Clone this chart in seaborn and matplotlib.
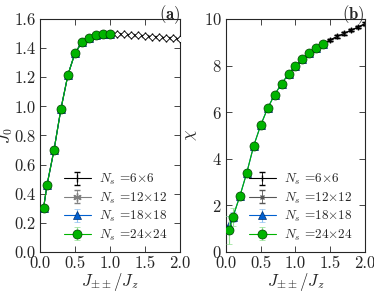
import seaborn as sns
import matplotlib.pyplot as plt
import numpy as np

# panel (a): J0
x24 = [0.05, 0.1, 0.2, 0.3, 0.4, 0.5, 0.6, 0.7, 0.8, 0.9, 1.0]
j0_24 = [0.30, 0.46, 0.70, 0.985, 1.218, 1.366, 1.44, 1.47, 1.49, 1.499, 1.50]
j0_24_err = [0.02, 0.02, 0.01, 0.01, 0.01, 0.01, 0.01, 0.01, 0.01, 0.01, 0.01]
j0_18 = [0.30, 0.46, 0.70, 0.985, 1.218, 1.366, 1.44, 1.47, 1.49, 1.499, 1.50]
x6 = [0.05, 0.1, 0.2, 0.3, 0.4, 0.5, 0.6, 0.7, 0.8, 0.9, 1.0,
      1.1, 1.2, 1.3, 1.4, 1.5, 1.6, 1.7, 1.8, 1.9, 2.0]
j0_6 = [0.30, 0.46, 0.70, 0.985, 1.218, 1.366, 1.44, 1.47, 1.49, 1.499, 1.50,
        1.498, 1.495, 1.491, 1.487, 1.483, 1.479, 1.475, 1.471, 1.468, 1.464]

# panel (b): chi
xb24 = [0.05, 0.1, 0.2, 0.3, 0.4, 0.5, 0.6, 0.7, 0.8, 0.9, 1.0, 1.1, 1.2, 1.3, 1.4]
chi_24 = [0.93, 1.5, 2.39, 3.4, 4.56, 5.44, 6.17, 6.75, 7.22, 7.64, 7.98, 8.27, 8.53, 8.74, 8.94]
chi_24_err = [0.6, 0.4, 0.1, 0.05, 0.05, 0.05, 0.05, 0.05, 0.05, 0.05, 0.05, 0.05, 0.05, 0.05, 0.05]
chi_18 = [1.16, 1.5, 2.39, 3.4, 4.56, 5.44, 6.17, 6.75, 7.22, 7.64, 7.98, 8.27, 8.53, 8.74, 8.94]
chi_18_err = [0.4, 0.2, 0.05, 0.03, 0.03, 0.03, 0.03, 0.03, 0.03, 0.03, 0.03, 0.03, 0.03, 0.03, 0.03]
xb6 = [1.4, 1.5, 1.6, 1.7, 1.8, 1.9, 2.0]
chi_6 = [8.94, 9.1, 9.25, 9.38, 9.52, 9.65, 9.8]

labels = [r'$N_s$ =6$\times$6', r'$N_s$ =12$\times$12',
          r'$N_s$ =18$\times$18', r'$N_s$ =24$\times$24']

sns.set_style('ticks')
plt.rcParams['font.family'] = 'serif'
plt.rcParams['font.serif'] = ['cmr10']
plt.rcParams['mathtext.fontset'] = 'cm'
plt.rcParams['axes.formatter.use_mathtext'] = True
plt.rcParams['axes.unicode_minus'] = False

fig = plt.figure(figsize=(3.74, 2.92), dpi=100)
axa = fig.add_axes([0.107, 0.137, 0.374, 0.798])
axb = fig.add_axes([0.604, 0.137, 0.372, 0.798])

green = '#00b400'
blue = '#0060d0'

def style(ax):
    ax.tick_params(direction='in', top=True, right=True, labelsize=12, length=4, width=0.6, pad=3)
    for s in ax.spines.values():
        s.set_linewidth(0.8)
    ax.set_xlim(0, 2.0)
    ax.set_xticks([0, 0.5, 1.0, 1.5, 2.0])
    ax.set_xticklabels(['0.0', '0.5', '1.0', '1.5', '2.0'])
    ax.set_xlabel(r'$J_{\pm\pm}/J_z$', fontsize=12, labelpad=0)

def leg(ax, handles):
    ax.legend(handles=handles, loc='lower right', frameon=False, fontsize=9.5,
              handlelength=2.05, handletextpad=0.6, labelspacing=0.25,
              borderaxespad=0, borderpad=0, bbox_to_anchor=(0.91, 0.04))

# (a)
h12 = axa.errorbar(x6[:11], j0_6[:11], yerr=0.005, color='gray', marker=(6, 2, 0), ms=6, lw=0.8,
                   capsize=2, elinewidth=0.6, label=labels[1], zorder=1)
h6 = axa.errorbar(x6, j0_6, yerr=0.005, color='black', marker='|', ms=6, lw=0.8,
                  capsize=2, elinewidth=0.6, label=labels[0], zorder=2)
sns.lineplot(x=x6[10:], y=j0_6[10:], ax=axa, color='black', marker='D', ms=3.5,
             mfc='white', mec='black', mew=0.6, lw=0.8, legend=False, zorder=3)
h18 = axa.errorbar(x24, j0_18, yerr=0.01, color=blue, ecolor='#8ec0f0', marker='^', ms=6,
                   mec='#003070', mew=0.5, lw=0.8, capsize=2, elinewidth=0.8, label=labels[2], zorder=4)
h24 = axa.errorbar(x24, j0_24, yerr=j0_24_err, color=green, ecolor='#90e090', marker='o', ms=6.5,
                   mec='#004000', mew=0.5, lw=0.8, capsize=2, elinewidth=0.8, label=labels[3], zorder=5)
style(axa)
axa.set_ylim(0, 1.6)
axa.set_yticks(np.arange(0, 1.61, 0.2))
axa.set_yticklabels(['%.1f' % v for v in np.arange(0, 1.61, 0.2)])
axa.set_ylabel(r'$J_0$', fontsize=12)
axa.yaxis.set_label_coords(-0.18, 0.5)
fig.text(180 / 374, 0.99, r'$\mathbf{(a)}$', ha='right', va='top', fontsize=12)
leg(axa, [h6, h12, h18, h24])

# (b)
b12 = axb.errorbar(xb6, chi_6, yerr=0.05, color='#555555', marker='x', ms=3.5, lw=0.8,
                   capsize=2, elinewidth=0.6, label=labels[1], zorder=1)
b6 = axb.errorbar(xb6, chi_6, yerr=0.05, color='black', marker='|', ms=5, lw=0.8,
                  capsize=2, elinewidth=0.6, label=labels[0], zorder=2)
b18 = axb.errorbar(xb24, chi_18, yerr=chi_18_err, color=blue, ecolor='#8ec0f0', marker='^', ms=6,
                   mec='#003070', mew=0.5, lw=0.8, capsize=2, elinewidth=0.8, label=labels[2], zorder=4)
b24 = axb.errorbar(xb24, chi_24, yerr=chi_24_err, color=green, ecolor='#90e090', marker='o', ms=6.5,
                   mec='#004000', mew=0.5, lw=0.8, capsize=2, elinewidth=0.8, label=labels[3], zorder=5)
style(axb)
axb.set_ylim(0, 10)
axb.set_yticks([0, 2, 4, 6, 8, 10])
axb.set_ylabel(r'$\chi$', fontsize=12)
axb.yaxis.set_label_coords(-0.19, 0.5)
fig.text(365 / 374, 0.99, r'$\mathbf{(b)}$', ha='right', va='top', fontsize=12)
leg(axb, [b6, b12, b18, b24])

plt.savefig('out.png', dpi=100)
